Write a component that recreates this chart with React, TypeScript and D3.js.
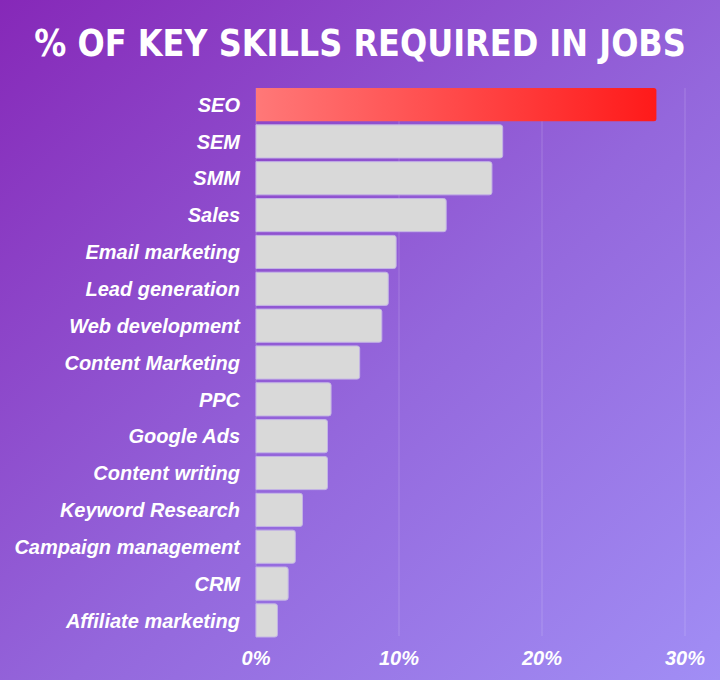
import * as d3 from "d3";
import React from "react";

const skills = [
  "SEO",
  "SEM",
  "SMM",
  "Sales",
  "Email marketing",
  "Lead generation",
  "Web development",
  "Content Marketing",
  "PPC",
  "Google Ads",
  "Content writing",
  "Keyword Research",
  "Campaign management",
  "CRM",
  "Affiliate marketing",
];
const shares = [28, 17.25, 16.5, 13.3, 9.8, 9.25, 8.8, 7.25, 5.25, 5, 5, 3.25, 2.75, 2.25, 1.5];
const ticks = [0, 10, 20, 30];

const W = 720;
const H = 680;

const App = () => {
  const ref = React.useRef<SVGSVGElement>(null);

  React.useEffect(() => {
    const svg = d3.select(ref.current);
    svg.selectAll("*").remove();

    const defs = svg.append("defs");
    const bg = defs
      .append("linearGradient")
      .attr("id", "bg")
      .attr("x1", "0%")
      .attr("y1", "0%")
      .attr("x2", "100%")
      .attr("y2", "100%");
    bg.append("stop").attr("offset", "0%").attr("stop-color", "#8628b8");
    bg.append("stop").attr("offset", "55%").attr("stop-color", "#9467dc");
    bg.append("stop").attr("offset", "100%").attr("stop-color", "#a18ef5");

    const hot = defs
      .append("linearGradient")
      .attr("id", "hot")
      .attr("x1", "0%")
      .attr("x2", "100%");
    hot.append("stop").attr("offset", "0%").attr("stop-color", "#ff7878");
    hot.append("stop").attr("offset", "100%").attr("stop-color", "#ff1a1a");

    svg.append("rect").attr("width", W).attr("height", H).attr("fill", "url(#bg)");

    // title: squeeze horizontally so it spans ~652px like the original
    const titleG = svg.append("g");
    const title = titleG
      .append("text")
      .attr("x", 0)
      .attr("y", 0)
      .attr("text-anchor", "middle")
      .attr("fill", "#ffffff")
      .attr("font-family", "'DejaVu Sans', sans-serif")
      .attr("font-weight", "bold")
      .attr("font-size", 38)
      .text("% OF KEY SKILLS REQUIRED IN JOBS");
    const natural = (title.node() as SVGTextElement).getComputedTextLength() || 800;
    titleG.attr("transform", `translate(${W / 2},56) scale(${652 / natural},1)`);

    const x = d3.scaleLinear().domain([0, 30]).range([256, 685]);
    const y = d3
      .scaleBand()
      .domain(skills)
      .range([88, 637])
      .paddingInner(0.1)
      .paddingOuter(0);

    // gridlines
    svg
      .append("g")
      .selectAll("line")
      .data(ticks)
      .enter()
      .append("line")
      .attr("x1", (d) => x(d))
      .attr("x2", (d) => x(d))
      .attr("y1", 88)
      .attr("y2", 636)
      .attr("stroke", "#ffffff")
      .attr("stroke-opacity", 0.18)
      .attr("stroke-width", 1);

    // bars, right corners rounded only
    const r = 2.5;
    const barPath = (w: number, h: number) =>
      `M0,0 H${w - r} Q${w},0 ${w},${r} V${h - r} Q${w},${h} ${w - r},${h} H0 Z`;

    svg
      .append("g")
      .selectAll("path")
      .data(skills)
      .enter()
      .append("path")
      .attr("transform", (d) => `translate(${x(0)},${y(d)})`)
      .attr("d", (d, i) => barPath(x(shares[i]) - x(0), y.bandwidth()))
      .attr("fill", (d, i) => (i === 0 ? "url(#hot)" : "#d9d9d9"))
      .attr("stroke", (d, i) => (i === 0 ? "none" : "#c4b4e6"))
      .attr("stroke-width", 1);

    // category labels
    svg
      .append("g")
      .selectAll("text")
      .data(skills)
      .enter()
      .append("text")
      .attr("x", 240)
      .attr("y", (d) => (y(d) as number) + y.bandwidth() / 2)
      .attr("dy", "0.36em")
      .attr("text-anchor", "end")
      .attr("fill", "#ffffff")
      .attr("font-family", "'Liberation Sans', Arial, sans-serif")
      .attr("font-weight", "bold")
      .attr("font-style", "italic")
      .attr("font-size", 20)
      .text((d) => d);

    // x tick labels
    svg
      .append("g")
      .selectAll("text")
      .data(ticks)
      .enter()
      .append("text")
      .attr("x", (d) => x(d))
      .attr("y", 665)
      .attr("text-anchor", "middle")
      .attr("fill", "#ffffff")
      .attr("font-family", "'Liberation Sans', Arial, sans-serif")
      .attr("font-weight", "bold")
      .attr("font-style", "italic")
      .attr("font-size", 20)
      .text((d) => d + "%");
  }, []);

  return (
    <svg
      ref={ref}
      width={W}
      height={H}
      style={{ display: "block", position: "absolute", left: 0, top: 0 }}
    ></svg>
  );
};

export default App;
